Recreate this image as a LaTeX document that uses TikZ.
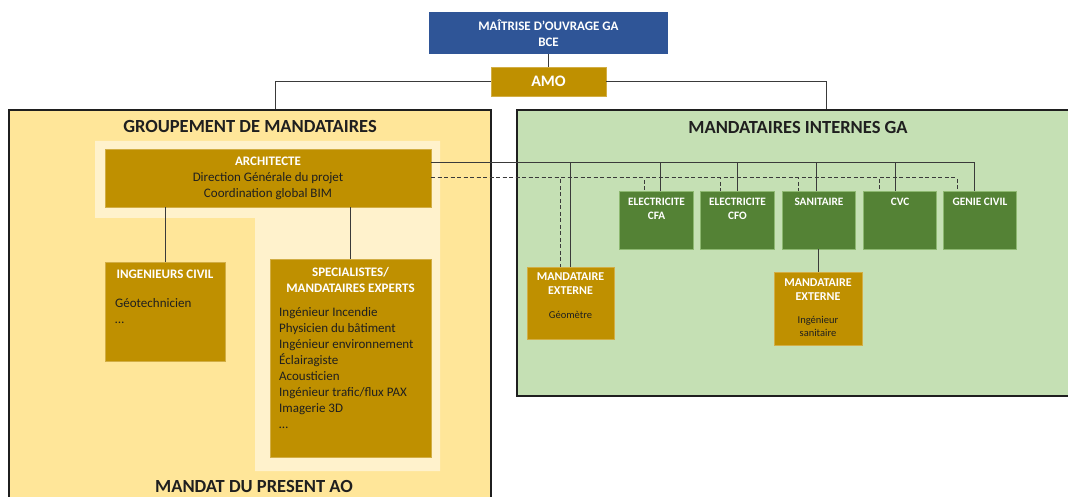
\documentclass[tikz,border=0pt]{standalone}
\usepackage{fontspec}
\setmainfont{Carlito}
\usetikzlibrary{positioning}

\definecolor{moablue}{HTML}{2F5597}
\definecolor{gold}{HTML}{BF9000}
\definecolor{goldedge}{HTML}{D2AE45}
\definecolor{sand}{HTML}{FFE699}
\definecolor{cream}{HTML}{FFF2CC}
\definecolor{sage}{HTML}{C5E0B4}
\definecolor{leaf}{HTML}{548235}
\definecolor{leafedge}{HTML}{8DB870}
\definecolor{ink}{HTML}{1F1F1F}
\definecolor{wire}{HTML}{3A3A3A}

\tikzset{
  sized/.style 2 args={rectangle, inner sep=0pt, minimum width=#1pt, minimum height=#2pt},
  frame/.style={draw=ink, line width=1.6pt},
  goldbox/.style={fill=gold, draw=goldedge, line width=0.6pt},
  greenbox/.style={fill=leaf, draw=leafedge, line width=0.8pt},
  title/.style={inner sep=0pt, text=ink, font=\bfseries\fontsize{18.5}{22}\selectfont},
  head/.style={inner sep=0pt, text=white, align=center, font=\bfseries\fontsize{13}{16}\selectfont},
  minihead/.style={inner sep=0pt, text=white, align=center, font=\bfseries\fontsize{11.3}{14}\selectfont},
  body/.style={inner sep=0pt, text=ink, align=left, font=\fontsize{13}{16}\selectfont},
  minibody/.style={inner sep=0pt, text=ink, align=center, font=\fontsize{10.5}{13.5}\selectfont},
  link/.style={draw=wire, line width=1pt},
  dlink/.style={link, dash pattern=on 4pt off 2.5pt}
}

\begin{document}
\begin{tikzpicture}[x=1pt, y=-1pt]
\useasboundingbox (0,0) rectangle (1068,497);

% the two groups
\node[frame, fill=sand, sized={482}{420}] (grp) at (250,320) {};
\node[frame, fill=sage, sized={618}{286}] (mint) at (826,253) {};
\fill[cream] (95,141) -- (440,141) -- (440,471) -- (255,471) -- (255,218) -- (95,218) -- cycle;
\node[title] (grpT) at (250,127) {GROUPEMENT DE MANDATAIRES};
\node[title] (mintT) at (798,127) {MANDATAIRES INTERNES GA};
\node[title] (mandT) at (254,486.5) {MANDAT DU PRESENT AO};

% top
\node[head, fill=moablue, sized={239}{42}] (bce) at (548.5,33) {MAÎTRISE D’OUVRAGE GA\\BCE};
\node[head, goldbox, sized={115}{29}, font=\bfseries\fontsize{16}{19}\selectfont] (amo) at (548.5,81.5) {AMO};

% groupement
\node[goldbox, sized={326}{58}, align=center, text=ink, inner sep=0pt,
      font=\fontsize{13}{16}\selectfont] (arch) at (268,178)
      {\textcolor{white}{\bfseries ARCHITECTE}\\Direction Générale du projet\\Coordination global BIM};
\node[goldbox, sized={120}{99}] (ic) at (165,311.5) {};
\node[head] (icT) at (165,274) {INGENIEURS CIVIL};
\node[body, anchor=north west] (icB) at (115,298) {Géotechnicien\\…};
\node[goldbox, sized={161}{198}] (spec) at (350.5,358) {};
\node[head, anchor=north] (specT) at (350.5,267) {SPECIALISTES/\\MANDATAIRES EXPERTS};
\node[body, anchor=north west] (specB) at (279,307.5) {Ingénieur Incendie\\Physicien du bâtiment\\Ingénieur environnement\\Éclairagiste\\Acousticien\\Ingénieur trafic/flux PAX\\Imagerie 3D\\…};

% mandataires internes
\foreach \nm/\cx/\txt in {cfa/656.5/{ELECTRICITE\\CFA}, cfo/737.5/{ELECTRICITE\\CFO},
                          san/819/SANITAIRE, cvc/900/CVC, gc/980/GENIE CIVIL} {
  \node[greenbox, sized={73.5}{58}] (\nm) at (\cx,220) {};
  \node[minihead, anchor=north] (\nm T) at (\cx,198) {\txt};
}
\node[goldbox, sized={87}{72}] (geo) at (570.5,303) {};
\node[minihead, anchor=north, font=\bfseries\fontsize{12}{13.5}\selectfont] (geoT) at (570.5,273) {MANDATAIRE\\EXTERNE};
\node[minibody] (geoB) at (570.5,315) {Géomètre};
\node[goldbox, sized={88}{73}] (ext) at (818,308.5) {};
\node[minihead, anchor=north, font=\bfseries\fontsize{12}{13.5}\selectfont] (extT) at (818,279) {MANDATAIRE\\EXTERNE};
\node[minibody, anchor=north] (extB) at (818,316) {Ingénieur\\sanitaire};

% liaisons
\draw[link] (bce) -- (amo);
\draw[link] (amo.west) -| ([xshift=25]grp.north);
\draw[link] (amo.east) -| (mint.north);
\draw[link] (ic.north) -- (ic.north |- arch.south);
\draw[link] (spec.north) -- (spec.north |- arch.south);
\draw[link] (ext.north) -- (ext.north |- san.south);
\coordinate (sbus) at ([yshift=15]arch.east);
\coordinate (dbus) at (arch.east);
\foreach \nm/\s/\d in {geo/0/-10.5, cfa/3.5/-12.5, cfo/-0.5/-17.5, san/-3/-21, cvc/-5/-21, gc/-6/-23} {
  \draw[link] (sbus) -| ([xshift=\s]\nm.north);
  \draw[dlink] (dbus) -| ([xshift=\d]\nm.north);
}
\end{tikzpicture}
\end{document}
